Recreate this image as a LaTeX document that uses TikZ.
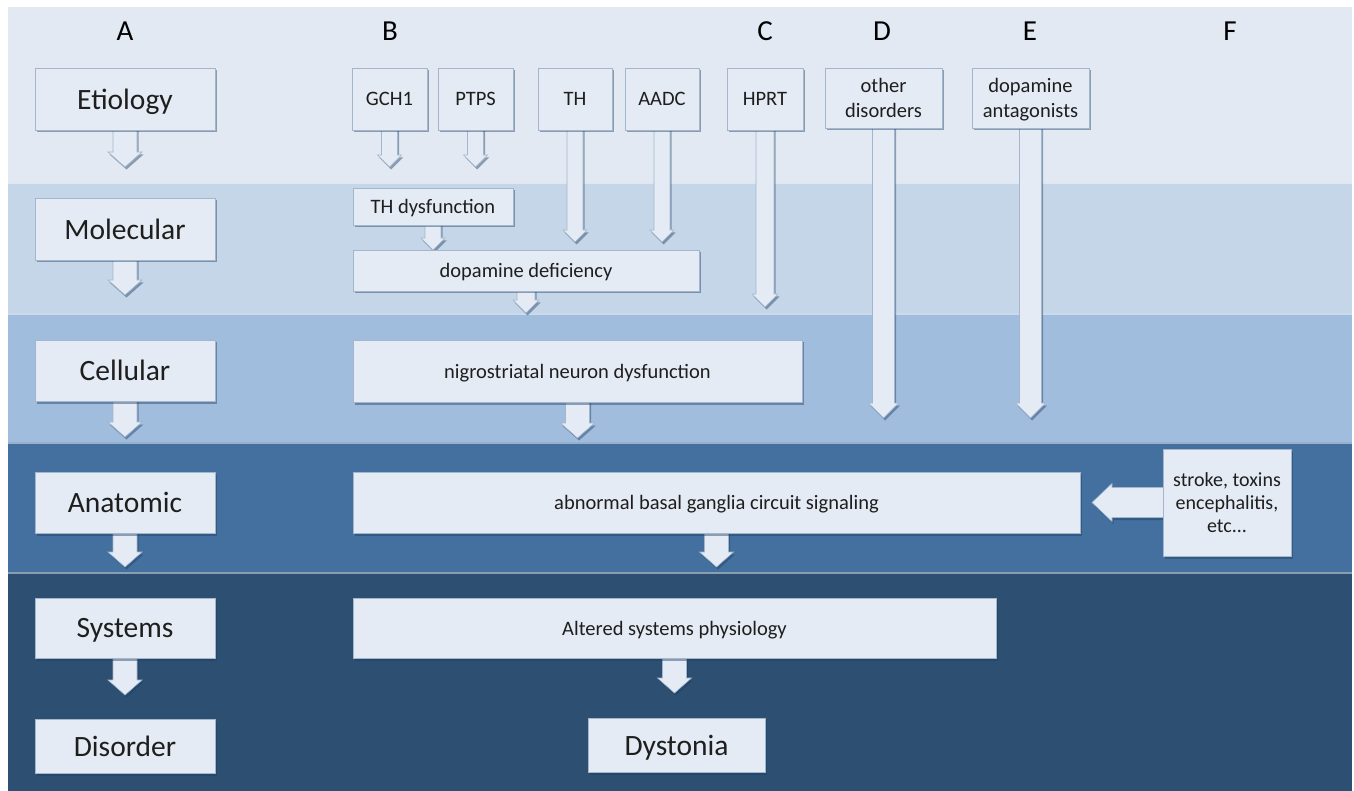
\documentclass[tikz,border=0pt]{standalone}
\usepackage{fontspec}
\setmainfont{Carlito}
\usetikzlibrary{calc,shadows}
\definecolor{bandA}{HTML}{E2E9F2}
\definecolor{bandB}{HTML}{C5D6E8}
\definecolor{bandC}{HTML}{A1BDDD}
\definecolor{bandD}{HTML}{44709F}
\definecolor{bandE}{HTML}{2D4F72}
\definecolor{boxfill}{HTML}{E4EBF4}
\definecolor{boxedge}{HTML}{A3B6CC}
\definecolor{txt}{HTML}{1E1E1E}
\definecolor{shade}{HTML}{1F3F66}
\pgfdeclarelayer{bg}
\pgfdeclarelayer{arr}
\pgfsetlayers{bg,arr,main}
\tikzset{
  shad/.style={drop shadow={shadow xshift=1.5pt, shadow yshift=-2.5pt, opacity=0.45, fill=shade}},
  lbox/.style={draw=boxedge, line width=0.8pt, fill=boxfill, inner sep=0pt, outer sep=0pt,
    text=txt, align=center, shad},
  big/.style={font=\fontsize{29.5}{33}\selectfont, text depth=0pt},
  small/.style={font=\fontsize{20.5}{25}\selectfont, text depth=0pt},
  barrow/.style={fill=boxfill, draw=boxedge, line width=0.6pt, shad},
  colhead/.style={font=\fontsize{29}{32}\selectfont, text=black, inner sep=0pt},
  highlight/.style={draw=white, opacity=0.45, line width=1.2pt},
}
% box: style, x1, y1, x2, y2, name, text
\newcommand\bx[7]{\node[lbox,#1,minimum width={#4-#2},minimum height={#5-#3}] (#6) at ({(#2+#4)/2},{(#3+#5)/2}) {#7};}
% down arrow: from node anchor, to point (y), stem half, head half, head length
\newcommand\darrow[5]{\path[barrow] let \p1=(#1), \p2=(#2) in
  (\x1-#3pt,\y1+3pt) -- (\x1-#3pt,\y2+#5pt) -- (\x1-#4pt,\y2+#5pt) -- (\x1,\y2)
  -- (\x1+#4pt,\y2+#5pt) -- (\x1+#3pt,\y2+#5pt) -- (\x1+#3pt,\y1+3pt) -- cycle;}
% left arrow
\newcommand\larrow[5]{\path[barrow] let \p1=(#1), \p2=(#2) in
  (\x1+3pt,\y1+#3pt) -- (\x2+#5pt,\y1+#3pt) -- (\x2+#5pt,\y1+#4pt) -- (\x2,\y1)
  -- (\x2+#5pt,\y1-#4pt) -- (\x2+#5pt,\y1-#3pt) -- (\x1+3pt,\y1-#3pt) -- cycle;}
\begin{document}
\begin{tikzpicture}[x=1pt,y=-1pt]
\useasboundingbox (0,0) rectangle (1354,791);
\begin{pgfonlayer}{bg}
  \fill[white] (0,0) rectangle (1354,791);
  \fill[bandA] (8,7) rectangle (1352,182);
  \fill[bandB] (8,182) rectangle (1352,313);
  \fill[bandC] (8,313) rectangle (1352,442);
  \fill[bandD] (8,442) rectangle (1352,572);
  \fill[bandE] (8,572) rectangle (1352,791);
  \draw[highlight] (8,183) -- (1352,183);
  \draw[highlight] (8,314) -- (1352,314);
  \draw[highlight] (8,443) -- (1352,443);
  \draw[highlight] (8,573) -- (1352,573);
\end{pgfonlayer}

% column headings
\node[colhead] (hA) at (125,31) {A};
\node[colhead] (hB) at (390,31) {B};
\node[colhead] (hC) at (765,31) {C};
\node[colhead] (hD) at (882,31) {D};
\node[colhead] (hE) at (1030,31) {E};
\node[colhead] (hF) at (1230,31) {F};

% level boxes
\bx{big}{35}{68}{215}{130}{etio}{Etiology}
\bx{big}{35}{198}{215}{260}{mol}{Molecular}
\bx{big}{35}{340}{215}{401}{cell}{Cellular}
\bx{big}{35}{472}{215}{533}{anat}{Anatomic}
\bx{big}{35}{598}{215}{658}{sys}{Systems}
\bx{big}{35}{719}{215}{773}{dis}{Disorder}

% etiology boxes
\bx{small}{352}{68}{427}{130}{gch}{GCH1}
\bx{small}{438}{68}{513}{130}{ptps}{PTPS}
\bx{small}{538}{68}{612}{130}{th}{TH}
\bx{small}{625}{68}{699}{130}{aadc}{AADC}
\bx{small}{727}{68}{803}{130}{hprt}{HPRT}
\bx{small}{825}{68}{942}{128}{other}{other\\disorders}
\bx{small}{972}{68}{1089}{128}{dant}{dopamine\\antagonists}

% mechanism boxes
\bx{small}{353}{188}{513}{225}{thd}{TH dysfunction}
\bx{small}{353}{250}{699}{291}{dd}{dopamine deficiency}
\bx{small}{353}{340}{802}{402}{ngs}{nigrostriatal neuron dysfunction}
\bx{small}{353}{472}{1080}{533}{abn}{abnormal basal ganglia circuit signaling}
\bx{small}{353}{598}{996}{658}{alt}{Altered systems physiology}
\bx{big}{588}{718}{765}{772}{dyst}{Dystonia}
\bx{small,font=\fontsize{20}{23}\selectfont}{1163}{449}{1291}{556}{strk}{stroke, toxins\\encephalitis,\\etc...}

% free arrow ends
\coordinate (tEtio) at (125,167);
\coordinate (tMol) at (125,295);
\coordinate (tCell) at (125,437);
\coordinate (tAnat) at (125,567);
\coordinate (tSys) at (125,695);
\coordinate (tGch) at (390,167);
\coordinate (tPtps) at (475,167);
\coordinate (tTh) at (575,242);
\coordinate (tAadc) at (661,242);
\coordinate (tHprt) at (765,307);
\coordinate (tOther) at (883,418);
\coordinate (tDant) at (1031,418);
\coordinate (tDd) at (527,313);
\coordinate (tNgs) at (577,438);
\coordinate (tAbn) at (716,567);
\coordinate (tAlt) at (673,693);
\coordinate (tStrk) at (1092,503);

\begin{pgfonlayer}{arr}
  \darrow{etio.south}{tEtio}{12}{17}{15}
  \darrow{mol.south}{tMol}{12}{17}{15}
  \darrow{cell.south}{tCell}{12}{17}{15}
  \darrow{anat.south}{tAnat}{12}{17}{15}
  \darrow{sys.south}{tSys}{12}{17}{15}
  \darrow{gch.south}{tGch}{8}{12}{12}
  \darrow{ptps.south}{tPtps}{8}{12}{12}
  \darrow{th.south}{tTh}{8}{12}{12}
  \darrow{aadc.south}{tAadc}{8}{12}{12}
  \darrow{hprt.south}{tHprt}{9}{13}{13}
  \darrow{other.south}{tOther}{11}{15}{15}
  \darrow{dant.south}{tDant}{11}{15}{15}
  \darrow{thd.south}{dd.north}{8}{12}{12}
  \darrow{dd.south}{tDd}{9}{13}{13}
  \darrow{ngs.south}{tNgs}{12}{17}{15}
  \darrow{abn.south}{tAbn}{12}{17}{15}
  \darrow{alt.south}{tAlt}{12}{17}{15}
  \larrow{strk.west}{tStrk}{15}{19}{20}
\end{pgfonlayer}
\end{tikzpicture}
\end{document}
